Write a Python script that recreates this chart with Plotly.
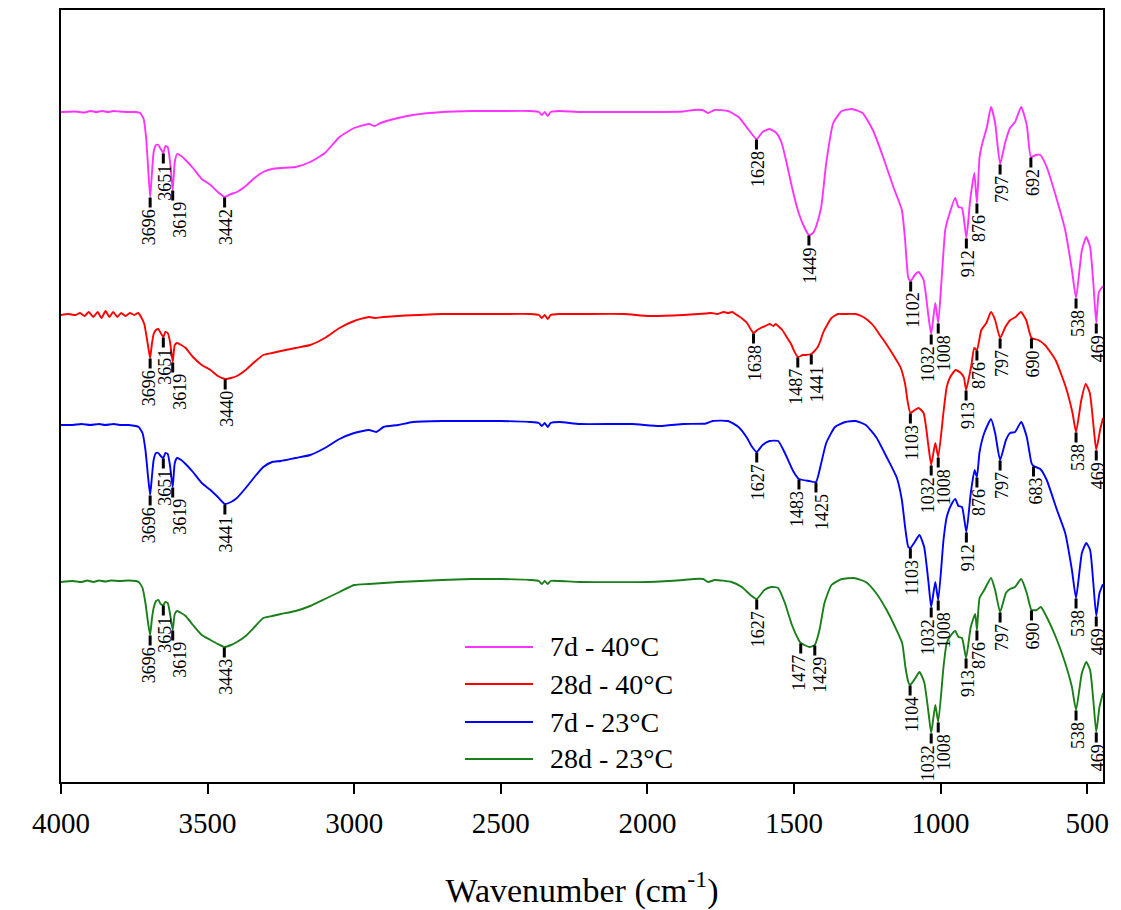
import numpy as np
import plotly.graph_objects as go

# ---- FTIR spectra (wavenumber in cm-1, offset transmittance in a.u.) ----
mag_wn = [4000, 3950, 3920, 3900, 3880, 3860, 3840, 3820, 3800, 3770, 3745, 3730, 3718, 3710, 3703,
          3696, 3690, 3684, 3676, 3668, 3660, 3651, 3644, 3636, 3628, 3619, 3612, 3604, 3590, 3575,
          3550, 3520, 3490, 3465, 3442, 3420, 3400, 3370, 3340, 3310, 3280, 3250, 3200, 3150, 3100,
          3050, 3000, 2950, 2930, 2910, 2850, 2800, 2700, 2600, 2500, 2400, 2370, 2360, 2350, 2340,
          2330, 2300, 2230, 2100, 2000, 1877, 1842, 1812, 1793, 1771, 1725, 1689, 1654, 1628, 1607,
          1583, 1560, 1542, 1525, 1507, 1484, 1462, 1449, 1435, 1424, 1407, 1390, 1366, 1337, 1302,
          1266, 1231, 1196, 1161, 1132, 1121, 1110, 1102, 1088, 1075, 1058, 1041, 1032, 1018, 1008,
          996, 984, 973, 950, 939, 927, 912, 899, 885, 876, 867, 859, 842, 828, 814,
          797, 780, 763, 746, 725, 706, 692, 675, 660, 638, 603, 575, 552, 538, 518,
          503, 490, 479, 469, 460, 446]
mag_t = [67.0, 67.05, 66.95, 67.1, 67.0, 67.1, 67.0, 67.1, 67.05, 67.0, 67.0, 66.9, 66.3, 64.5, 61.5,
         58.5, 60.8, 63.0, 63.7, 63.7, 63.3, 62.9, 63.6, 63.5, 62.0, 59.2, 62.0, 62.8, 62.6, 62.2,
         61.4, 60.3, 59.7, 59.0, 58.5, 58.8, 59.0, 59.6, 60.4, 61.0, 61.3, 61.4, 61.5, 62.0, 62.9,
         64.5, 65.4, 65.8, 65.6, 65.9, 66.4, 66.7, 67.0, 67.1, 67.1, 67.1, 67.0, 66.7, 67.0, 66.6,
         67.0, 67.1, 67.0, 67.0, 67.0, 67.05, 67.2, 67.2, 66.9, 67.2, 67.1, 66.5, 65.2, 64.3, 65.0,
         65.3, 64.9, 63.9, 61.9, 59.5, 56.9, 55.3, 54.7, 54.9, 55.6, 57.5, 61.9, 65.9, 67.1, 67.3,
         66.9, 65.2, 62.5, 59.5, 57.2, 54.2, 50.4, 50.1, 50.7, 51.0, 50.2, 46.5, 44.8, 47.9, 45.9,
         50.5, 55.2, 56.5, 58.4, 57.5, 57.4, 54.4, 58.2, 60.9, 57.9, 62.5, 63.7, 65.5, 67.5, 65.9,
         61.8, 63.9, 65.4, 66.0, 67.5, 65.7, 62.5, 62.7, 62.7, 61.5, 58.2, 55.2, 51.2, 48.4, 53.2,
         54.5, 53.5, 49.9, 45.9, 49.0, 49.6]

red_wn = [4000, 3975, 3950, 3935, 3920, 3905, 3890, 3875, 3862, 3848, 3835, 3822, 3808, 3795, 3780,
          3765, 3750, 3737, 3727, 3716, 3708, 3702, 3696, 3690, 3684, 3676, 3668, 3660, 3651, 3644,
          3636, 3628, 3619, 3612, 3604, 3590, 3575, 3550, 3520, 3490, 3465, 3440, 3420, 3400, 3370,
          3340, 3310, 3280, 3250, 3200, 3150, 3100, 3050, 3000, 2950, 2930, 2900, 2850, 2700, 2600,
          2500, 2400, 2370, 2360, 2350, 2340, 2330, 2300, 2230, 2080, 1994, 1877, 1800, 1783, 1760,
          1740, 1725, 1710, 1700, 1689, 1675, 1660, 1648, 1638, 1625, 1613, 1598, 1583, 1570, 1562,
          1554, 1540, 1525, 1510, 1501, 1487, 1470, 1460, 1441, 1430, 1419, 1410, 1401, 1385, 1372,
          1350, 1331, 1290, 1270, 1249, 1228, 1207, 1190, 1172, 1155, 1137, 1121, 1112, 1103, 1088,
          1075, 1058, 1041, 1032, 1018, 1008, 990, 979, 967, 949, 931, 920, 913, 896, 885,
          876, 861, 844, 828, 814, 797, 779, 762, 744, 726, 708, 690, 667, 644, 608,
          573, 550, 538, 520, 505, 491, 477, 469, 456, 446]
red_t = [46.7, 46.8, 46.7, 46.9, 46.6, 47.0, 46.5, 47.0, 46.4, 47.1, 46.5, 47.0, 46.5, 46.9, 46.6,
         46.9, 46.7, 46.9, 46.5, 45.8, 44.5, 43.4, 42.4, 43.8, 44.8, 45.2, 45.3, 44.9, 44.5, 45.0,
         44.9, 44.0, 42.0, 43.7, 43.9, 43.7, 43.4, 42.5, 41.7, 41.2, 40.6, 40.3, 40.4, 40.6, 41.2,
         42.0, 42.7, 42.9, 43.1, 43.4, 43.7, 44.4, 45.4, 46.1, 46.5, 46.4, 46.5, 46.6, 46.8, 46.8,
         46.8, 46.8, 46.7, 46.4, 46.7, 46.3, 46.7, 46.8, 46.8, 46.8, 46.6, 46.7, 46.85, 46.9, 46.8,
         47.0, 46.9, 47.0, 46.8, 46.6, 46.3, 45.9, 45.3, 44.9, 45.2, 45.4, 45.6, 45.8, 45.6, 45.8,
         45.6, 45.2, 44.5, 43.8, 43.2, 42.5, 42.7, 42.7, 42.8, 43.1, 43.5, 44.1, 44.9, 45.8, 46.4,
         46.8, 46.8, 46.8, 46.6, 46.2, 45.6, 44.7, 44.0, 43.2, 42.4, 41.5, 39.8, 38.0, 36.9, 37.2,
         37.4, 36.9, 33.5, 31.7, 33.9, 32.5, 37.0, 39.5, 40.5, 41.2, 40.9, 40.4, 39.2, 41.5, 43.4,
         43.2, 45.2, 45.9, 47.0, 46.2, 44.4, 45.5, 46.2, 46.5, 47.0, 46.2, 44.4, 44.2, 43.7, 42.2,
         39.5, 36.9, 35.0, 38.2, 39.8, 38.9, 35.2, 33.2, 35.2, 36.4]

blue_wn = [4000, 3960, 3930, 3900, 3870, 3850, 3820, 3800, 3770, 3745, 3735, 3722, 3712, 3703, 3696,
           3690, 3684, 3676, 3668, 3660, 3651, 3644, 3636, 3628, 3619, 3612, 3604, 3590, 3575, 3550,
           3520, 3490, 3465, 3441, 3420, 3400, 3370, 3340, 3310, 3280, 3250, 3200, 3150, 3100, 3050,
           3000, 2950, 2925, 2900, 2850, 2800, 2700, 2600, 2500, 2400, 2370, 2360, 2350, 2340, 2330,
           2300, 2230, 2053, 1959, 1877, 1800, 1777, 1725, 1689, 1660, 1645, 1627, 1607, 1583, 1554,
           1531, 1501, 1483, 1448, 1425, 1407, 1390, 1360, 1325, 1290, 1255, 1220, 1184, 1149, 1132,
           1121, 1110, 1103, 1088, 1072, 1056, 1041, 1032, 1018, 1008, 990, 979, 964, 950, 939,
           927, 912, 897, 884, 876, 867, 851, 828, 814, 797, 777, 763, 746, 725, 706,
           690, 683, 660, 638, 603, 575, 552, 538, 518, 503, 490, 479, 469, 458, 446]
blue_t = [35.7, 35.7, 35.8, 35.7, 35.8, 35.7, 35.8, 35.7, 35.7, 35.6, 35.5, 34.9, 33.2, 30.5, 28.7,
          30.5, 32.2, 32.9, 32.9, 32.6, 32.4, 32.9, 32.8, 31.6, 29.5, 31.9, 32.4, 32.2, 31.8, 31.0,
          29.9, 29.2, 28.5, 27.8, 28.0, 28.4, 29.4, 30.5, 31.5, 32.0, 32.1, 32.4, 32.7, 33.4, 34.3,
          34.9, 35.2, 35.0, 35.5, 35.7, 36.0, 36.1, 36.1, 36.1, 36.0, 35.9, 35.6, 35.9, 35.5, 35.9,
          36.0, 35.8, 35.8, 35.6, 35.8, 35.85, 36.1, 36.1, 35.5, 34.4, 33.6, 33.0, 33.7, 34.1, 34.1,
          32.9, 31.0, 30.3, 30.1, 30.0, 31.9, 33.9, 35.5, 36.0, 36.1, 35.7, 34.5, 32.5, 30.4, 28.2,
          25.5, 23.5, 23.4, 24.0, 24.7, 23.5, 19.9, 17.5, 20.0, 18.2, 24.2, 26.5, 27.7, 28.3, 27.6,
          27.5, 25.0, 28.9, 31.2, 30.5, 33.0, 34.9, 36.3, 34.9, 32.2, 34.2, 34.9, 35.0, 36.0, 34.5,
          31.9, 31.6, 31.3, 30.2, 27.2, 24.9, 21.2, 18.4, 22.9, 23.9, 23.2, 19.9, 16.6, 18.9, 19.8]

green_wn = [4000, 3960, 3930, 3910, 3890, 3870, 3850, 3830, 3800, 3770, 3745, 3735, 3722, 3712, 3703,
            3696, 3690, 3684, 3676, 3668, 3660, 3651, 3644, 3636, 3628, 3619, 3612, 3604, 3590, 3575,
            3550, 3520, 3490, 3465, 3443, 3420, 3400, 3370, 3340, 3310, 3280, 3250, 3200, 3150, 3100,
            3050, 3000, 2950, 2900, 2850, 2700, 2600, 2500, 2400, 2370, 2360, 2350, 2340, 2330, 2300,
            2230, 2000, 1877, 1842, 1810, 1793, 1770, 1713, 1678, 1648, 1627, 1601, 1578, 1554, 1531,
            1507, 1484, 1477, 1448, 1429, 1413, 1396, 1372, 1337, 1296, 1255, 1220, 1184, 1155, 1131,
            1120, 1110, 1104, 1088, 1072, 1056, 1041, 1032, 1018, 1008, 990, 979, 964, 950, 939,
            927, 913, 897, 882, 876, 867, 851, 828, 814, 797, 777, 763, 746, 725, 706,
            690, 672, 658, 638, 603, 575, 552, 538, 518, 503, 490, 479, 469, 458, 446]
green_t = [20.0, 20.1, 20.0, 20.15, 20.0, 20.15, 20.05, 20.15, 20.1, 20.15, 20.1, 20.0, 19.4, 17.9, 15.9,
           14.7, 16.3, 17.4, 18.1, 18.2, 17.8, 17.7, 18.0, 17.9, 16.8, 15.2, 16.8, 17.1, 16.9, 16.6,
           15.7, 14.7, 14.2, 13.8, 13.5, 13.7, 14.0, 14.6, 15.5, 16.4, 16.6, 16.8, 17.1, 17.6, 18.3,
           19.0, 19.7, 19.8, 19.9, 20.0, 20.2, 20.3, 20.3, 20.2, 20.1, 19.8, 20.1, 19.8, 20.1, 20.1,
           20.0, 20.0, 20.2, 20.3, 20.3, 20.0, 20.2, 20.0, 19.5, 18.7, 18.3, 19.2, 19.5, 19.4, 17.9,
           15.7, 14.2, 13.9, 13.5, 13.7, 15.2, 17.9, 19.7, 20.3, 20.4, 20.0, 18.9, 17.2, 15.5, 13.9,
           11.5, 10.0, 9.7, 10.3, 11.0, 10.0, 6.9, 4.9, 7.7, 6.0, 11.5, 13.9, 14.7, 15.1, 14.5,
           14.4, 12.4, 15.5, 16.8, 15.2, 18.4, 19.2, 20.4, 19.2, 17.0, 18.9, 19.3, 19.5, 20.3, 18.9,
           17.2, 17.2, 17.5, 16.5, 14.2, 11.9, 9.5, 7.2, 10.9, 12.0, 11.2, 8.2, 5.0, 7.5, 8.9]

# ---- band assignments marked on each spectrum ----
mag_peaks = [3696, 3651, 3619, 3442, 1628, 1449, 1102, 1032, 1008, 912, 876, 797, 692, 538, 469]
red_peaks = [3696, 3651, 3619, 3440, 1638, 1487, 1441, 1103, 1032, 1008, 913, 876, 797, 690, 538, 469]
blue_peaks = [3696, 3651, 3619, 3441, 1627, 1483, 1425, 1103, 1032, 1008, 912, 876, 797, 683, 538, 469]
green_peaks = [3696, 3651, 3619, 3443, 1627, 1477, 1429, 1104, 1032, 1008, 913, 876, 797, 690, 538, 469]

series_names = ["7d - 40°C", "28d - 40°C", "7d - 23°C", "28d - 23°C"]
x_ticks = [4000, 3500, 3000, 2500, 2000, 1500, 1000, 500]

colors = ["#FF33FF", "#FF0000", "#0000FF", "#1A7F1A"]
SERIF = "Liberation Serif, Times New Roman, serif"

# sideways nudges (px) so crowded labels do not collide
label_dx = {3696: -1, 3619: 7, 1032: -3, 1008: 6, 1441: 6, 1425: 6, 1429: 5,
            1487: -2, 1483: -2, 1477: -2}
DEFAULT_DX = 1.5
TICK_LEN = 1.0  # length of the band marker, in y units

spectra = [(mag_wn, mag_t, mag_peaks), (red_wn, red_t, red_peaks),
           (blue_wn, blue_t, blue_peaks), (green_wn, green_t, green_peaks)]

fig = go.Figure()
shapes = []
annotations = []

for (wn, t, peaks), name, col in zip(spectra, series_names, colors):
    fig.add_trace(go.Scatter(
        x=wn, y=t, mode="lines", name=name, showlegend=False,
        line=dict(color=col, width=1.9, shape="spline", smoothing=0.5),
    ))
    wn_arr = np.array(wn, dtype=float)[::-1]
    t_arr = np.array(t, dtype=float)[::-1]
    for p in peaks:
        yv = float(np.interp(p, wn_arr, t_arr))
        shapes.append(dict(type="line", xref="x", yref="y", x0=p, x1=p,
                           y0=yv - 0.05, y1=yv - 0.05 - TICK_LEN,
                           line=dict(color="black", width=3)))
        annotations.append(dict(
            x=p, y=yv - 0.1 - TICK_LEN, xref="x", yref="y", text=str(p),
            textangle=-90, showarrow=False, xanchor="center", yanchor="top",
            xshift=label_dx.get(p, DEFAULT_DX), borderpad=0,
            font=dict(family=SERIF, size=18, color="black")))

# ---- legend block drawn inside the plot ----
leg_y = [0.1749, 0.1269, 0.0777, 0.0298]
for name, col, yy in zip(series_names, colors, leg_y):
    shapes.append(dict(type="line", xref="paper", yref="paper", x0=0.3877, x1=0.4530,
                       y0=yy, y1=yy, line=dict(color=col, width=2)))
    annotations.append(dict(x=0.4674, y=yy, xref="paper", yref="paper", text=name,
                            showarrow=False, xanchor="left", yanchor="middle",
                            font=dict(family=SERIF, size=28, color="black")))

fig.update_layout(
    width=1121, height=910,
    margin=dict(l=61, r=18, t=10, b=128),
    paper_bgcolor="white", plot_bgcolor="white",
    shapes=shapes, annotations=annotations,
    font=dict(family=SERIF, color="black"),
)
fig.update_xaxes(
    range=[4000, 446], tickmode="array", tickvals=x_ticks,
    ticktext=[str(v) for v in x_ticks], automargin=False,
    ticks="outside", ticklen=10, tickwidth=1.5, tickcolor="black",
    ticklabelstandoff=4,
    showline=True, linecolor="black", linewidth=2, mirror=True,
    showgrid=False, zeroline=False,
    tickfont=dict(family=SERIF, size=29, color="black"),
    title=dict(text="Wavenumber (cm<sup>-1</sup>)", standoff=40,
               font=dict(family=SERIF, size=34, color="black")),
)
fig.update_yaxes(
    range=[0, 77.2], showticklabels=False, ticks="", automargin=False,
    showline=True, linecolor="black", linewidth=2, mirror=True,
    showgrid=False, zeroline=False,
)

fig.write_html("out.html")
